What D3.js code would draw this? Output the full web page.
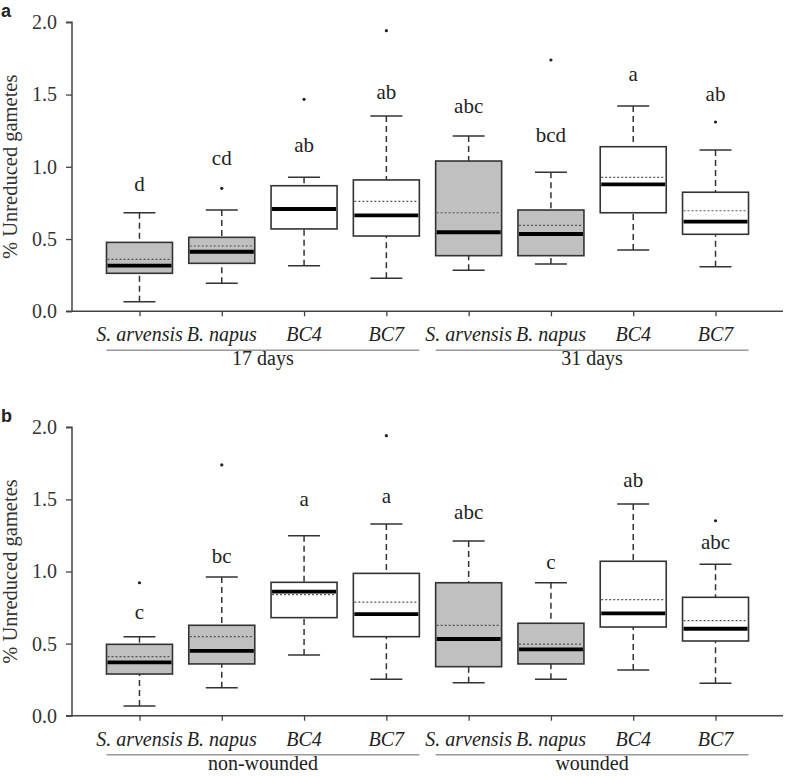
<!DOCTYPE html>
<html><head><meta charset="utf-8">
<script src="https://cdn.jsdelivr.net/npm/d3@7"></script>
<style>body{margin:0;background:#fff;} svg{display:block;}</style>
</head><body>
<script>
// categories
const species = ["S. arvensis","B. napus","BC4","BC7"];
const groupsA = ["17 days","31 days"];
const groupsB = ["non-wounded","wounded"];
const yTicks = [0,0.5,1.0,1.5,2.0];
const fillTypes = ["gray","gray","white","white"];

// panel a: [whiskerLow, q1, median, q3, whiskerHigh], means, outliers, letters
const statsA = [
  [0.066,0.263,0.316,0.477,0.682],
  [0.194,0.332,0.412,0.512,0.701],
  [0.316,0.570,0.708,0.869,0.927],
  [0.228,0.521,0.664,0.909,1.352],
  [0.284,0.385,0.547,1.040,1.213],
  [0.327,0.385,0.535,0.701,0.962],
  [0.424,0.682,0.879,1.139,1.421],
  [0.309,0.533,0.620,0.824,1.116]
];
const meansA = [0.360,0.452,0.708,0.761,0.682,0.595,0.927,0.696];
const outliersA = [[],[0.851],[1.467],[1.942],[],[1.739],[],[1.310]];
const lettersA = ["d","cd","ab","ab","abc","bcd","a","ab"];
const letterPosA = [0.83,1.01,1.105,1.47,1.37,1.174,1.596,1.457];

// panel b
const statsB = [
  [0.067,0.289,0.370,0.495,0.548],
  [0.194,0.359,0.449,0.627,0.962],
  [0.421,0.680,0.860,0.925,1.248],
  [0.252,0.548,0.705,0.987,1.329],
  [0.229,0.340,0.532,0.922,1.211],
  [0.252,0.359,0.460,0.641,0.922],
  [0.317,0.615,0.710,1.071,1.468],
  [0.225,0.518,0.603,0.821,1.050]
];
const meansB = [0.409,0.548,0.839,0.788,0.627,0.497,0.805,0.659];
const outliersB = [[0.922],[1.739],[],[1.942],[],[],[],[1.352]];
const lettersB = ["c","bc","a","a","abc","c","ab","abc"];
const letterPosB = [0.668,1.057,1.454,1.473,1.362,1.015,1.588,1.154];

const W = 785, H = 776;
const svg = d3.select("body").append("svg").attr("width",W).attr("height",H);
const serif = "'Liberation Serif','Times New Roman',Times,serif";

function panel(opts){
  const {top, bottom, label, stats, means, outliers, letters, letterPos, groups} = opts;
  const g = svg.append("g");
  const left = 72, right = 783;
  const y = d3.scaleLinear().domain([0,2]).range([bottom, top]);
  const keys = d3.range(8);
  const x = d3.scalePoint().domain(keys).range([left,right]).padding(0.82);
  const boxW = 66, capW = 32;

  // panel label
  g.append("text").attr("x",1).attr("y",top-5.5).attr("font-family","'Liberation Sans',Arial,sans-serif")
    .attr("font-weight","bold").attr("font-size",18).attr("fill","#222").text(label);

  // y axis
  const yAxis = g.append("g").attr("transform",`translate(${left},0)`)
    .call(d3.axisLeft(y).tickValues(yTicks).tickFormat(d3.format(".1f")).tickSize(6).tickPadding(9));
  yAxis.select(".domain").attr("stroke","#444").attr("stroke-width",1.5).attr("d",`M-6,${y(2)}H0V${y(0)}H-6`);
  yAxis.selectAll(".tick line").attr("stroke","#444").attr("stroke-width",1.3);
  yAxis.selectAll(".tick text").attr("font-family",serif).attr("font-size",20).attr("fill","#333");

  // x axis
  const xAxis = g.append("g").attr("transform",`translate(0,${bottom})`)
    .call(d3.axisBottom(x).tickSize(5).tickFormat(""));
  xAxis.select(".domain").attr("stroke","#444").attr("stroke-width",1.5).attr("d",`M${left},0H${right}`);
  xAxis.selectAll(".tick line").attr("stroke","#444").attr("stroke-width",1.3);

  // category labels
  g.selectAll(".cat").data(keys).join("text")
    .attr("x",d=>x(d)).attr("y",bottom+30).attr("text-anchor","middle")
    .attr("font-family",serif).attr("font-style","italic").attr("font-size",20).attr("fill","#222")
    .text(d=>species[d%4]);

  // group lines & labels
  [0,1].forEach(gi=>{
    const x0 = x(gi*4)-boxW/2, x1 = x(gi*4+3)+boxW/2;
    g.append("line").attr("x1",x0).attr("x2",x1).attr("y1",bottom+39).attr("y2",bottom+39)
      .attr("stroke","#999").attr("stroke-width",1.5);
    g.append("text").attr("x",(x0+x1)/2).attr("y",bottom+54).attr("text-anchor","middle")
      .attr("font-family",serif).attr("font-size",20).attr("fill","#222").text(groups[gi]);
  });

  const bx = g.selectAll(".box").data(keys).join("g");
  // whiskers
  bx.append("line").attr("x1",d=>x(d)).attr("x2",d=>x(d))
    .attr("y1",d=>y(stats[d][0])).attr("y2",d=>y(stats[d][1]))
    .attr("stroke","#333").attr("stroke-width",1.5).attr("stroke-dasharray","6,4");
  bx.append("line").attr("x1",d=>x(d)).attr("x2",d=>x(d))
    .attr("y1",d=>y(stats[d][4])).attr("y2",d=>y(stats[d][3]))
    .attr("stroke","#333").attr("stroke-width",1.5).attr("stroke-dasharray","6,4");
  // caps
  [0,4].forEach(k=>{
    bx.append("line").attr("x1",d=>x(d)-capW/2).attr("x2",d=>x(d)+capW/2)
      .attr("y1",d=>y(stats[d][k])).attr("y2",d=>y(stats[d][k]))
      .attr("stroke","#333").attr("stroke-width",1.5);
  });
  // box
  bx.append("rect").attr("x",d=>x(d)-boxW/2).attr("width",boxW)
    .attr("y",d=>y(stats[d][3])).attr("height",d=>y(stats[d][1])-y(stats[d][3]))
    .attr("fill",d=>fillTypes[d%4]==="gray"?"#c0c0c0":"#fff")
    .attr("stroke","#333").attr("stroke-width",1.6);
  // mean
  bx.append("line").attr("x1",d=>x(d)-boxW/2+1).attr("x2",d=>x(d)+boxW/2-1)
    .attr("y1",d=>y(means[d])).attr("y2",d=>y(means[d]))
    .attr("stroke","#555").attr("stroke-width",1.2).attr("stroke-dasharray","2,2");
  // median
  bx.append("line").attr("x1",d=>x(d)-boxW/2+1).attr("x2",d=>x(d)+boxW/2-1)
    .attr("y1",d=>y(stats[d][2])).attr("y2",d=>y(stats[d][2]))
    .attr("stroke","#000").attr("stroke-width",3.8);
  // outliers
  bx.each(function(d){
    d3.select(this).selectAll("circle").data(outliers[d]).join("circle")
      .attr("cx",x(d)).attr("cy",v=>y(v)).attr("r",1.6).attr("fill","#222");
  });
  // letters
  bx.append("text").attr("x",d=>x(d)).attr("y",d=>y(letterPos[d])).attr("text-anchor","middle")
    .attr("font-family",serif).attr("font-size",21).attr("fill","#222").text(d=>letters[d]);

  // y-axis title
  g.append("text").attr("transform",`translate(17,${y(1)}) rotate(-90)`).attr("text-anchor","middle")
    .attr("font-family",serif).attr("font-size",20.5).attr("fill","#333").text("% Unreduced gametes");
}

panel({top:22.3,bottom:311.3,label:"a",stats:statsA,means:meansA,outliers:outliersA,letters:lettersA,letterPos:letterPosA,groups:groupsA});
panel({top:427.3,bottom:715.7,label:"b",stats:statsB,means:meansB,outliers:outliersB,letters:lettersB,letterPos:letterPosB,groups:groupsB});
</script>
</body></html>
